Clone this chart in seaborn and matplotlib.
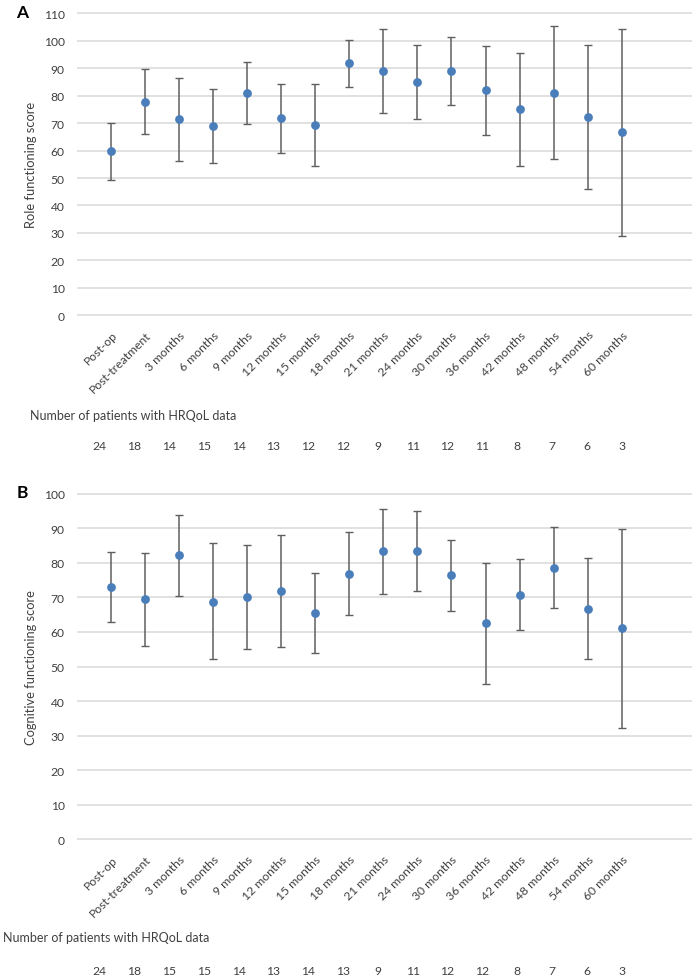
import numpy as np
import pandas as pd
import matplotlib
matplotlib.use("Agg")
import matplotlib.pyplot as plt
import matplotlib.transforms as mtransforms
import seaborn as sns

categories = ["Post-op", "Post-treatment", "3 months", "6 months", "9 months",
              "12 months", "15 months", "18 months", "21 months", "24 months",
              "30 months", "36 months", "42 months", "48 months", "54 months",
              "60 months"]

role_mean = [59.7, 77.8, 71.4, 68.9, 80.9, 71.7, 69.5, 91.8, 88.9, 84.9,
             88.9, 81.9, 75.0, 80.9, 72.2, 66.7]
role_upper = [70.0, 89.7, 86.6, 82.3, 92.3, 84.3, 84.4, 100.2, 104.3, 98.5,
              101.3, 98.0, 95.5, 105.3, 98.6, 104.4]
role_lower = [49.3, 66.0, 56.3, 55.5, 69.7, 59.3, 54.5, 83.2, 73.6, 71.4,
              76.7, 65.7, 54.5, 56.9, 45.9, 28.8]
role_n = [24, 18, 14, 15, 14, 13, 12, 12, 9, 11, 12, 11, 8, 7, 6, 3]

cog_mean = [72.9, 69.4, 82.2, 68.8, 70.2, 71.8, 65.4, 76.9, 83.3, 83.3,
            76.5, 62.5, 70.8, 78.6, 66.6, 61.1]
cog_upper = [83.1, 82.9, 93.9, 85.6, 85.2, 88.0, 77.0, 89.0, 95.5, 95.0,
             86.7, 80.0, 81.1, 90.3, 81.3, 89.8]
cog_lower = [62.8, 55.9, 70.5, 52.1, 55.2, 55.5, 53.9, 65.0, 71.1, 71.7,
             66.1, 44.9, 60.6, 66.8, 52.1, 32.3]
cog_n = [24, 18, 15, 15, 14, 13, 14, 13, 9, 11, 12, 12, 8, 7, 6, 3]

sns.set_theme(style="white")
plt.rcParams['font.family'] = ['Lato', 'DejaVu Sans']

TXT = "#404040"
GRID = "#d9d9d9"
PT = "#4a7ebb"
ERR = "#5f5f5f"
FS = 8.7

W, H = 692, 979
fig = plt.figure(figsize=(W / 100, H / 100), dpi=100)


def panel(rect, mean, lower, upper, ymax, ylabel, letter, n, label_y, nums_y, note_x):
    ax = fig.add_axes(rect)
    x = np.arange(len(categories))
    df = pd.DataFrame({"x": x, "y": mean})
    mean_a = np.array(mean)
    yerr = np.vstack([mean_a - np.array(lower), np.array(upper) - mean_a])
    ax.errorbar(x, mean_a, yerr=yerr, fmt="none", ecolor=ERR, elinewidth=1.1,
                capsize=3.2, capthick=1.0, zorder=2)
    sns.scatterplot(data=df, x="x", y="y", ax=ax, color=PT, s=40,
                    edgecolor=PT, linewidth=0, zorder=3, legend=False)
    ax.set_xlim(-1.0, 17.07)
    ax.set_ylim(-0.4, ymax + 0.4)
    ax.set_yticks(np.arange(0, ymax + 1, 10))
    ax.set_yticklabels([str(int(v)) for v in np.arange(0, ymax + 1, 10)])
    ax.set_xticks(x)
    ax.set_xticklabels(categories, rotation=45, ha="right",
                       rotation_mode="anchor")
    ax.tick_params(axis="y", length=0, pad=9, labelsize=FS, labelcolor=TXT)
    ax.tick_params(axis="x", length=0, pad=9, labelsize=FS, labelcolor=TXT)
    for s in ax.spines.values():
        s.set_visible(False)
    ax.yaxis.grid(True, color=GRID, linewidth=1.1)
    ax.xaxis.grid(False)
    ax.set_axisbelow(True)
    ax.set_xlabel("")
    ax.set_ylabel(ylabel, fontsize=FS + 0.6, color=TXT)
    ax.yaxis.set_label_coords(-0.066, 0.5)
    top_px = (1 - rect[1] - rect[3]) * H
    fig.text(22 / W, 1 - top_px / H, letter, fontsize=12.5, fontweight="bold",
             color="black", ha="center", va="center")
    fig.text(note_x / W, 1 - label_y / H, "Number of patients with HRQoL data",
             fontsize=FS + 0.3, color=TXT, ha="left", va="center")
    trans = mtransforms.blended_transform_factory(ax.transData, fig.transFigure)
    for xi, v in zip(x, n):
        ax.text(xi - 0.35 * (1 - xi / 15), 1 - nums_y / H, str(v), transform=trans,
                fontsize=FS, color=TXT, ha="center", va="center", clip_on=False)
    return ax


left = 77.3 / W
width = 1 - left
panel([left, 1 - 317.3 / H, width, (317.3 - 13.3) / H], role_mean, role_lower,
      role_upper, 110, "Role functioning score", "A", role_n, 415.7, 446.7, 30)
panel([left, 1 - 841.7 / H, width, (841.7 - 493.3) / H], cog_mean, cog_lower,
      cog_upper, 100, "Cognitive functioning score", "B", cog_n, 938, 971.7, 3)

fig.savefig("out.png", dpi=100, facecolor="white")
